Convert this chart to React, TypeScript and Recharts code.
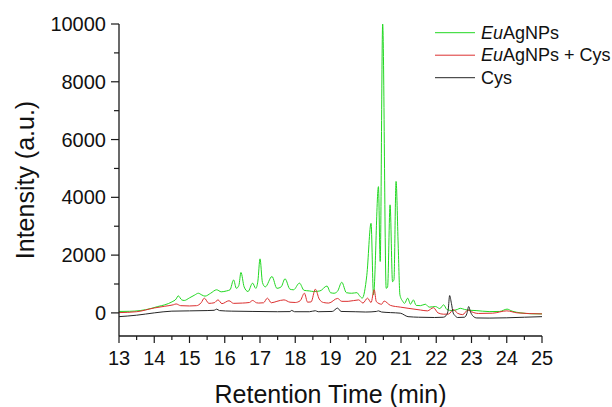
import React from 'react';
import { LineChart, Line, XAxis, YAxis } from 'recharts';

// Chromatograms: [retention time (min), intensity (a.u.)]
const euAgNPs: [number, number][] = [
  [13.0, 50], [13.3, 55], [13.6, 80], [13.9, 150], [14.1, 220], [14.3, 280], [14.5, 380],
  [14.62, 480], [14.68, 590], [14.78, 450], [14.85, 430], [15.0, 520], [15.15, 620],
  [15.25, 680], [15.35, 620], [15.44, 580], [15.6, 680], [15.77, 800], [15.9, 730],
  [16.05, 760], [16.15, 800], [16.25, 1140], [16.33, 850], [16.4, 950], [16.46, 1400],
  [16.55, 900], [16.66, 740], [16.79, 1030], [16.88, 850], [16.94, 1100], [17.0, 1870],
  [17.07, 1050], [17.15, 900], [17.34, 1260], [17.48, 850], [17.6, 900], [17.71, 1180],
  [17.85, 820], [17.95, 800], [18.12, 1030], [18.25, 780], [18.4, 760], [18.52, 740],
  [18.7, 760], [18.9, 930], [19.0, 700], [19.1, 680], [19.2, 750], [19.32, 1060],
  [19.45, 700], [19.6, 680], [19.75, 700], [19.82, 600], [19.9, 510], [20.03, 1300],
  [20.15, 3100], [20.22, 620], [20.36, 4370], [20.41, 1780], [20.48, 10000], [20.58, 850],
  [20.62, 900], [20.69, 3740], [20.76, 1080], [20.8, 1150], [20.86, 4550], [20.92, 2350],
  [20.97, 620], [21.05, 400], [21.1, 330], [21.19, 510], [21.27, 300], [21.35, 450],
  [21.43, 260], [21.55, 250], [21.69, 300], [21.8, 200], [21.98, 220], [22.1, 150],
  [22.21, 280], [22.3, 120], [22.45, 80], [22.6, 120], [22.68, 160], [22.8, 120],
  [22.95, 90], [23.13, 80], [23.5, 45], [23.8, 50], [24.01, 130], [24.15, 60],
  [24.4, 0], [24.7, -30], [25.0, -35],
];

const euAgNPsCys: [number, number][] = [
  [13.0, 10], [13.5, 40], [14.0, 170], [14.3, 230], [14.54, 280], [14.62, 310], [14.75, 250],
  [15.0, 240], [15.2, 250], [15.33, 350], [15.42, 510], [15.55, 330], [15.7, 350],
  [15.81, 450], [15.92, 320], [16.12, 420], [16.25, 330], [16.5, 340], [16.7, 360],
  [16.79, 430], [16.9, 350], [16.96, 340], [17.1, 350], [17.21, 510], [17.32, 350],
  [17.48, 400], [17.68, 450], [17.85, 370], [18.0, 360], [18.14, 420], [18.26, 680],
  [18.35, 370], [18.45, 380], [18.57, 820], [18.68, 480], [18.8, 360], [18.95, 340],
  [19.2, 500], [19.32, 400], [19.5, 400], [19.8, 450], [19.92, 340], [20.05, 510],
  [20.15, 360], [20.24, 800], [20.3, 390], [20.45, 300], [20.52, 410], [20.7, 260],
  [20.98, 200], [21.2, 160], [21.55, 100], [21.75, 70], [21.92, 180], [22.05, 0],
  [22.21, -46], [22.35, -40], [22.49, 115], [22.6, -10], [22.75, -60], [22.9, 100],
  [23.0, 40], [23.2, -20], [23.6, -10], [24.0, 70], [24.3, 0], [25.0, -35],
];

const cys: [number, number][] = [
  [13.0, -130], [13.5, -80], [14.0, 0], [14.5, 60], [15.0, 70], [15.5, 80], [15.7, 90],
  [15.77, 130], [15.85, 80], [16.2, 60], [16.8, 50], [17.5, 40], [17.85, 45], [17.9, 85],
  [17.98, 40], [18.4, 40], [18.57, 75], [18.65, 40], [19.05, 50], [19.2, 165], [19.3, 50],
  [19.7, 40], [20.0, 30], [20.3, 50], [20.36, 70], [20.45, 30], [20.7, 10], [20.98, -10],
  [21.2, -130], [21.5, -150], [21.95, -160], [22.2, -150], [22.3, -60], [22.34, 120],
  [22.38, 600], [22.43, 330], [22.48, 0], [22.53, -90], [22.6, -160], [22.8, -150],
  [22.87, -20], [22.92, 220], [22.97, 40], [23.05, -120], [23.15, -175], [23.5, -180],
  [24.0, -170], [24.5, -150], [25.0, -130],
];

const xTicks = [13, 13.5, 14, 14.5, 15, 15.5, 16, 16.5, 17, 17.5, 18, 18.5, 19, 19.5, 20, 20.5, 21, 21.5, 22, 22.5, 23, 23.5, 24, 24.5, 25];
const xLabels = [13, 14, 15, 16, 17, 18, 19, 20, 21, 22, 23, 24, 25];
const yTicks = [0, 1000, 2000, 3000, 4000, 5000, 6000, 7000, 8000, 9000, 10000];
const yLabels = [0, 2000, 4000, 6000, 8000, 10000];

const seriesInfo = [
  { key: 'eu', points: euAgNPs, color: '#22d822', prefix: 'Eu', rest: 'AgNPs' },
  { key: 'euc', points: euAgNPsCys, color: '#dc3030', prefix: 'Eu', rest: 'AgNPs + Cys' },
  { key: 'cys', points: cys, color: '#262626', prefix: '', rest: 'Cys' },
];

const FONT = '"Liberation Sans", Arial, Helvetica, sans-serif';
const AXIS = '#1a1a1a';

const toRows = (pts: [number, number][]) => pts.map(([t, v]) => ({ t, v }));

const YTick = (props: any) => {
  const { x, y, payload } = props;
  const major = yLabels.includes(payload.value);
  const len = major ? 8 : 5;
  return (
    <g>
      <line x1={x - len} x2={x} y1={y} y2={y} stroke={AXIS} strokeWidth={1.2} />
      {major && (
        <text x={x - 13} y={y} textAnchor="end" dominantBaseline="central" fontSize={20} fontFamily={FONT} fill="#111">
          {payload.value}
        </text>
      )}
    </g>
  );
};

const XTick = (props: any) => {
  const { x, y, payload } = props;
  const major = xLabels.includes(payload.value);
  const len = major ? 7 : 4;
  return (
    <g>
      <line x1={x} x2={x} y1={y} y2={y + len} stroke={AXIS} strokeWidth={1.2} />
      {major && (
        <text x={x} y={y + 29} textAnchor="middle" fontSize={20} fontFamily={FONT} fill="#111">
          {payload.value}
        </text>
      )}
    </g>
  );
};

// Legend key drawn in the top-right corner of the plot
const LEG_X = 435;
const LEG_Y = 32.7;
const LEG_ROW = 22.5;

export default function App() {
  return (
    <div style={{ position: 'absolute', left: 0, top: 0, width: 612, height: 407, background: '#fff' }}>
      <LineChart width={612} height={407} margin={{ top: 24, right: 70, left: 0, bottom: 0 }}>
        <XAxis
          type="number"
          dataKey="t"
          domain={[13, 25]}
          ticks={xTicks}
          interval={0}
          allowDataOverflow
          height={71}
          tickSize={0}
          tickMargin={0}
          tick={<XTick />}
          axisLine={{ stroke: AXIS, strokeWidth: 1.3 }}
          label={{ value: 'Retention Time (min)', position: 'insideBottom', offset: 4, fontSize: 25, fontFamily: FONT, fill: '#111' }}
        />
        <YAxis
          type="number"
          domain={[-800, 10000]}
          ticks={yTicks}
          interval={0}
          allowDataOverflow
          width={119}
          tickSize={0}
          tickMargin={0}
          tick={<YTick />}
          axisLine={{ stroke: AXIS, strokeWidth: 1.3 }}
        />
        <text x={25} y={180} transform="rotate(-90 25 180)" textAnchor="middle" dominantBaseline="central" fontSize={25} fontFamily={FONT} fill="#111">
          Intensity (a.u.)
        </text>
        {seriesInfo.map((s, i) => (
          <g key={'leg-' + s.key}>
            <line x1={LEG_X} x2={LEG_X + 40} y1={LEG_Y + i * LEG_ROW} y2={LEG_Y + i * LEG_ROW} stroke={s.color} strokeWidth={1} />
            <text x={LEG_X + 46} y={LEG_Y + i * LEG_ROW} dominantBaseline="central" fontSize={18} fontFamily={FONT} fill="#111">
              {s.prefix && <tspan fontStyle="italic">{s.prefix}</tspan>}
              <tspan>{s.rest}</tspan>
            </text>
          </g>
        ))}
        {seriesInfo.map((s) => (
          <Line
            key={s.key}
            name={s.prefix + s.rest}
            data={toRows(s.points)}
            dataKey="v"
            type="monotone"
            stroke={s.color}
            strokeWidth={1}
            dot={false}
            activeDot={false}
            isAnimationActive={false}
          />
        ))}
      </LineChart>
    </div>
  );
}
